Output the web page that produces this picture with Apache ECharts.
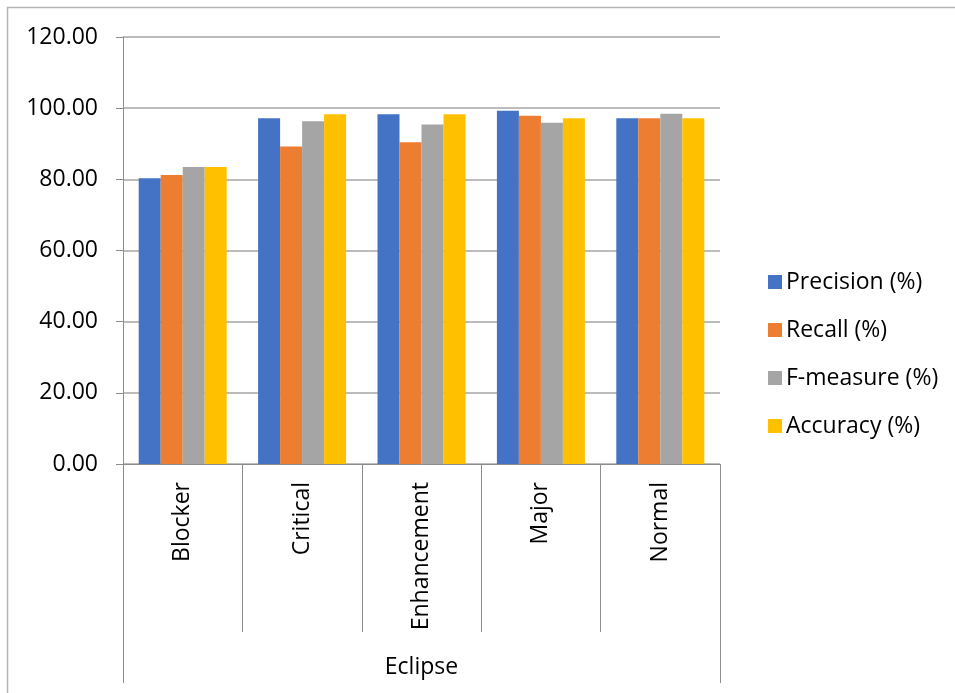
<!DOCTYPE html>
<html>
<head>
<meta charset="utf-8">
<script src="https://cdn.jsdelivr.net/npm/echarts@6/dist/echarts.min.js"></script>
<style>
  html, body { margin: 0; padding: 0; background: #fff; }
  #main { width: 955px; height: 693px; }
</style>
</head>
<body>
<div id="main"></div>
<script>
var categories = ['Blocker', 'Critical', 'Enhancement', 'Major', 'Normal'];
var groupLabel = ['Eclipse'];
var precision = [80.3, 97.2, 98.3, 99.3, 97.2];
var recall = [81.2, 89.2, 90.4, 97.9, 97.2];
var fMeasure = [83.5, 96.3, 95.4, 95.9, 98.4];
var accuracy = [83.5, 98.3, 98.3, 97.2, 97.2];
var seriesNames = ['Precision (%)', 'Recall (%)', 'F-measure (%)', 'Accuracy (%)'];
var colors = ['#4472C4', '#ED7D31', '#A5A5A5', '#FFC000'];

var font = '"Open Sans", "Liberation Sans", sans-serif';
var fontSize = 23;
var myChart = echarts.init(document.getElementById('main'));

function bar(name, data, color) {
    return {
        name: name,
        type: 'bar',
        xAxisIndex: 0,
        barWidth: 22,
        barGap: '0%',
        itemStyle: {color: color},
        data: data
    };
}

myChart.setOption({
    animation: false,
    textStyle: {fontFamily: font},
    grid: {left: 123, right: 235, top: 37, bottom: 229, containLabel: false},
    graphic: [{
        type: 'rect',
        shape: {x: 7.5, y: 7.5, width: 1000, height: 1000},
        style: {fill: 'none', stroke: '#b4b4b4', lineWidth: 1.5},
        silent: true
    }],
    legend: {
        orient: 'vertical',
        left: 763,
        top: 265,
        itemWidth: 14,
        itemHeight: 14,
        itemGap: 24,
        icon: 'rect',
        textStyle: {fontSize: fontSize, color: '#000', fontFamily: font, lineHeight: 24, padding: [0, 0, 0, -1]},
        data: seriesNames
    },
    xAxis: [
        {
            type: 'category',
            position: 'bottom',
            data: categories,
            axisLine: {lineStyle: {color: '#8c8c8c', width: 1}},
            axisTick: {show: true, length: 168, interval: 0, lineStyle: {color: '#8c8c8c'}},
            axisLabel: {rotate: 90, margin: 18, fontSize: fontSize, color: '#000', interval: 0, fontFamily: font},
            splitLine: {show: false}
        },
        {
            type: 'category',
            position: 'bottom',
            data: groupLabel,
            axisLine: {show: false},
            axisTick: {show: true, length: 219, interval: 0, lineStyle: {color: '#8c8c8c'}},
            axisLabel: {margin: 192, fontSize: fontSize, color: '#000', fontFamily: font},
            splitLine: {show: false}
        }
    ],
    yAxis: {
        type: 'value',
        min: 0,
        max: 120,
        interval: 20,
        axisLine: {show: true, lineStyle: {color: '#8c8c8c'}},
        axisTick: {show: true, length: 7, lineStyle: {color: '#8c8c8c'}},
        axisLabel: {
            margin: 25,
            fontSize: fontSize,
            color: '#000',
            fontFamily: font,
            formatter: function (v) { return v.toFixed(2); }
        },
        splitLine: {lineStyle: {color: '#a6a6a6', width: 1.5}}
    },
    series: [
        bar(seriesNames[0], precision, colors[0]),
        bar(seriesNames[1], recall, colors[1]),
        bar(seriesNames[2], fMeasure, colors[2]),
        bar(seriesNames[3], accuracy, colors[3])
    ]
});
</script>
</body>
</html>
